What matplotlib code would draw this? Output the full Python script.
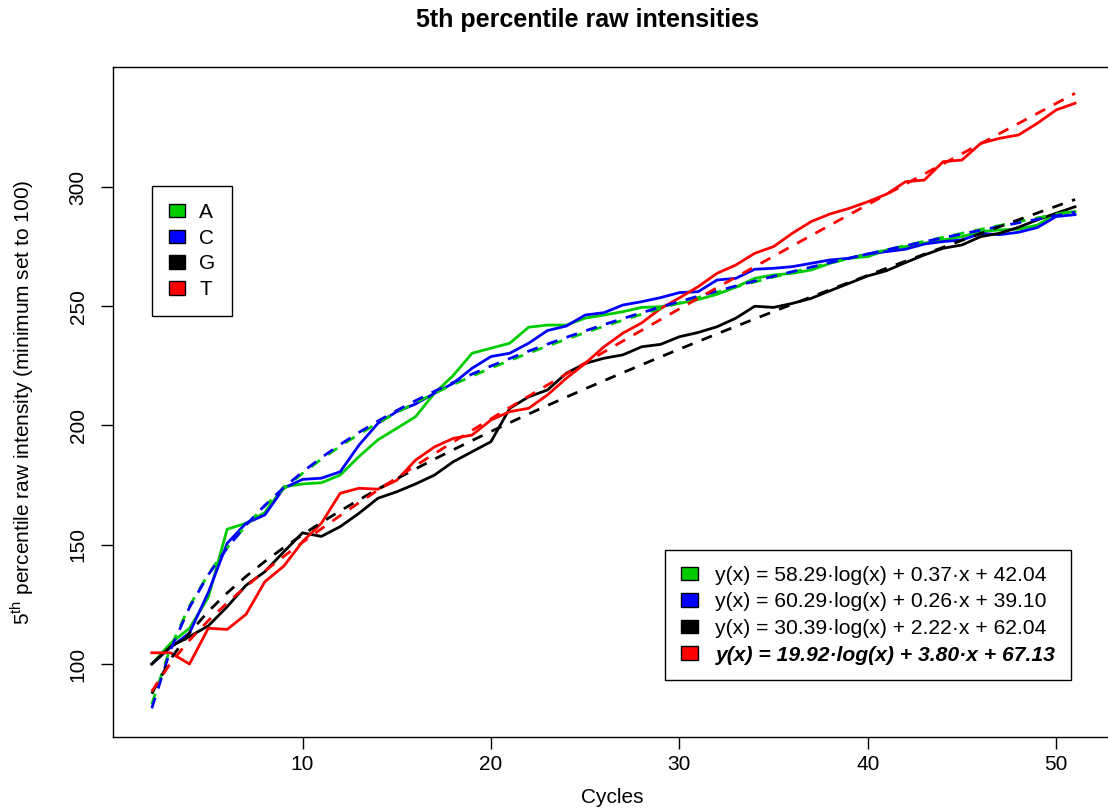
import matplotlib
matplotlib.use('Agg')
import matplotlib.pyplot as plt
from matplotlib.patches import Patch
import numpy as np

plt.rcParams['font.family'] = ['Liberation Sans', 'DejaVu Sans']
plt.rcParams['mathtext.fontset'] = 'custom'
plt.rcParams['mathtext.rm'] = 'Liberation Sans'
plt.rcParams['font.size'] = 15

cycles = np.arange(2, 52)

# 5th percentile intensities per base (minimum set to 100)
A = [100, 108.7, 115, 128, 156.5, 159, 163.5, 174.3, 175.5, 176,
     179.2, 187, 194, 198.8, 203.7, 213.5, 221, 230.3, 232.4, 234.5,
     241.2, 242.1, 242.1, 245, 246.3, 247.7, 249.5, 249.8, 251.2, 252.8,
     255, 258, 261.7, 263.1, 263.8, 265.2, 268, 270.1, 270.8, 273.6,
     275, 276.4, 277.8, 279.2, 281.3, 282, 282.3, 284, 288.7, 289.7]
C = [100, 107, 113, 130, 150.6, 159, 162.5, 173.7, 177.4, 177.9,
     180.6, 191.8, 200.9, 205.8, 209, 213.5, 217.7, 224, 228.9, 230.3,
     234.5, 239.8, 241.7, 246.3, 247.3, 250.5, 251.9, 253.6, 255.7, 256.1,
     261, 261.7, 265.5, 265.9, 266.6, 268, 269.4, 270.1, 271.9, 272.9,
     273.9, 276.1, 277.1, 277.8, 280.5, 280, 281, 283, 287.6, 288.4]
G = [100, 107.3, 111.5, 116, 124, 133, 138.7, 147, 155, 153.5,
     157.6, 163.2, 169.5, 172.2, 175.5, 179.2, 184.8, 189, 193.2, 207.2,
     212, 214.9, 221.9, 226, 228.2, 229.6, 233, 234, 237.2, 239,
     241.4, 245, 250, 249.5, 251.2, 253.3, 256.5, 259.6, 262.7, 264.9,
     268.3, 271.5, 274.3, 275.7, 279.2, 280.6, 283.1, 286.2, 289, 291.7]
T = [104.7, 104.7, 100, 115, 114.5, 120.8, 134.5, 141, 151.3, 159,
     171.6, 173.7, 173.3, 177, 185.5, 191, 194.6, 196, 202.3, 205.8,
     207.2, 212.8, 219.8, 226, 233, 238.7, 243, 249, 253.5, 258.2,
     263.8, 267.3, 272.2, 275, 280.6, 285.5, 288.7, 291, 293.8, 297,
     302.2, 302.9, 310.6, 311.3, 318.3, 320.4, 321.8, 326.7, 332.3, 335.1]

bases = ['A', 'C', 'G', 'T']
colors = ['#00CD00', '#0000FF', '#000000', '#FF0000']

# fitted model y = a*log(x) + b*x + c
fit_a = [58.29, 60.29, 30.39, 19.92]
fit_b = [0.37, 0.26, 2.22, 3.80]
fit_c = [42.04, 39.10, 62.04, 67.13]

fig = plt.figure(figsize=(11.08, 8.09), dpi=100)
ax = fig.add_axes([0.1023, 0.0890, 0.9013, 0.8282])

for raw, col in zip([A, C, G, T], colors):
    ax.plot(cycles, raw, color=col, lw=2)
for col, a, b, c in zip(colors, fit_a, fit_b, fit_c):
    ax.plot(cycles, a * np.log(cycles) + b * cycles + c, color=col, lw=2, ls=(0, (4, 3.5)))

ax.set_xlim(-0.04, 52.96)
ax.set_ylim(69.4, 350.3)
ax.set_xticks([10, 20, 30, 40, 50])
ax.set_yticks([100, 150, 200, 250, 300])
ax.tick_params(direction='out', length=8.5, width=1, labelsize=15)
ax.tick_params(axis='x', pad=4.7)
ax.tick_params(axis='y', pad=10, labelrotation=90)
for lab in ax.get_yticklabels():
    lab.set_verticalalignment('center')
for sp in ax.spines.values():
    sp.set_linewidth(1)

ax.set_xlabel('Cycles', fontsize=15, labelpad=10)
ax.set_ylabel('5$^{\\mathrm{th}}$ percentile raw intensity (minimum set to 100)', fontsize=15, labelpad=23.5)
fig.text(587.5 / 1108, 1 - 27 / 809, '5th percentile raw intensities', ha='center', va='baseline',
         fontsize=18, fontweight='bold')

handles = [Patch(facecolor=c, edgecolor='black', linewidth=1) for c in colors]
leg1 = ax.legend(handles, bases, loc='upper left', bbox_to_anchor=(152 / 1108, 1 - 186 / 809),
                 bbox_transform=fig.transFigure, borderaxespad=0, handlelength=0.8, handleheight=0.6,
                 handletextpad=0.67, labelspacing=0.33, borderpad=0.8, fancybox=False, framealpha=1,
                 edgecolor='black', fontsize=15)
leg1.get_frame().set_linewidth(1)
ax.add_artist(leg1)

eq_labels = ['y(x) = {:.2f}\u00b7log(x) + {:.2f}\u00b7x + {:.2f}'.format(a, b, c)
             for a, b, c in zip(fit_a, fit_b, fit_c)]
leg2 = ax.legend(handles, eq_labels, loc='upper left', bbox_to_anchor=(665 / 1108, 1 - 550 / 809),
                 bbox_transform=fig.transFigure, borderaxespad=0, handlelength=0.8, handleheight=0.6,
                 handletextpad=0.84, labelspacing=0.36, borderpad=0.75, fancybox=False, framealpha=1,
                 edgecolor='black', fontsize=15.2)
leg2.get_frame().set_linewidth(1)
leg2.get_texts()[3].set_fontweight('bold')
leg2.get_texts()[3].set_fontstyle('italic')

fig.savefig('out.png', dpi=100)
